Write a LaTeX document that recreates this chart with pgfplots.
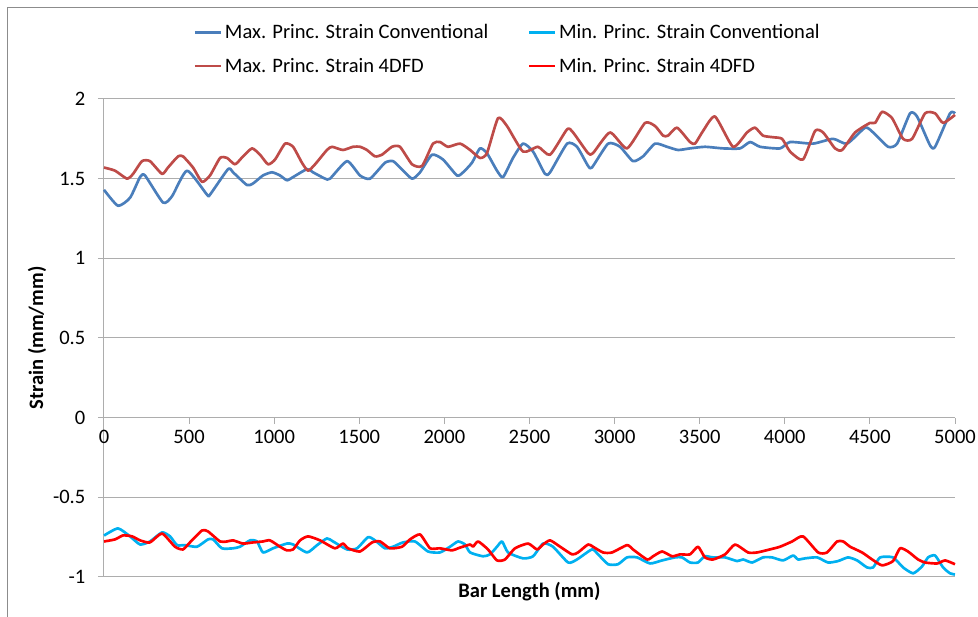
\documentclass[border=0pt]{standalone}
\usepackage{pgfplots}
\pgfplotsset{compat=1.18}
\usepackage{fontspec}
\setmainfont{Carlito}
\definecolor{maxconv}{HTML}{4A7EBB}
\definecolor{minconv}{HTML}{00B0F0}
\definecolor{maxdfd}{HTML}{BE4B48}
\definecolor{mindfd}{HTML}{FF0000}
\definecolor{gridc}{HTML}{ADADAD}
\definecolor{framec}{HTML}{8C8C8C}

\pgfplotstableread{
x y
0 1.43
82 1.33
153 1.38
212 1.51
241 1.52
347 1.35
400 1.39
488 1.55
605 1.40
623 1.40
729 1.56
758 1.54
840 1.46
876 1.47
934 1.52
987 1.54
1034 1.52
1075 1.49
1111 1.51
1193 1.56
1228 1.54
1299 1.50
1328 1.50
1428 1.61
1504 1.52
1563 1.50
1651 1.60
1698 1.61
1739 1.57
1810 1.50
1857 1.54
1927 1.65
1992 1.62
2074 1.52
2110 1.54
2162 1.60
2209 1.69
2250 1.66
2309 1.55
2345 1.51
2403 1.63
2462 1.72
2521 1.67
2591 1.53
2621 1.54
2721 1.72
2779 1.70
2844 1.58
2867 1.57
2962 1.72
3032 1.70
3108 1.61
3167 1.64
3238 1.72
3308 1.70
3373 1.68
3443 1.69
3531 1.70
3637 1.69
3737 1.69
3796 1.73
3855 1.70
3972 1.69
4031 1.73
4166 1.72
4284 1.75
4366 1.72
4472 1.82
4519 1.79
4607 1.70
4660 1.72
4736 1.91
4777 1.89
4853 1.71
4883 1.70
4971 1.91
5000 1.91
}\maxconvtab

\pgfplotstableread{
x y
0 1.57
65 1.55
135 1.50
171 1.53
223 1.61
270 1.61
341 1.53
376 1.57
435 1.64
464 1.64
523 1.57
576 1.48
623 1.52
682 1.63
723 1.63
770 1.59
817 1.64
870 1.69
917 1.65
964 1.59
1005 1.62
1064 1.72
1111 1.70
1163 1.60
1199 1.55
1240 1.59
1310 1.68
1340 1.70
1404 1.68
1463 1.70
1504 1.70
1545 1.68
1592 1.64
1633 1.65
1692 1.70
1739 1.70
1810 1.59
1869 1.58
1933 1.72
1974 1.73
2021 1.70
2092 1.72
2151 1.68
2209 1.63
2250 1.66
2315 1.88
2368 1.83
2462 1.67
2550 1.70
2621 1.65
2721 1.81
2756 1.79
2844 1.66
2873 1.66
2973 1.79
3073 1.69
3179 1.85
3238 1.83
3285 1.77
3314 1.77
3367 1.82
3443 1.73
3473 1.72
3520 1.80
3590 1.89
3696 1.70
3778 1.79
3825 1.82
3872 1.77
3931 1.76
3984 1.75
4031 1.67
4107 1.62
4178 1.80
4225 1.79
4295 1.69
4337 1.68
4413 1.79
4501 1.85
4531 1.85
4572 1.92
4630 1.88
4695 1.75
4748 1.75
4824 1.91
4883 1.91
4930 1.85
5000 1.90
}\maxdfdtab

\pgfplotstableread{
x y
0 -0.74
82 -0.695
153 -0.745
212 -0.796
270 -0.777
341 -0.72
388 -0.745
429 -0.80
476 -0.80
546 -0.81
611 -0.764
641 -0.764
693 -0.82
758 -0.82
799 -0.81
858 -0.77
899 -0.777
934 -0.846
993 -0.82
1075 -0.79
1111 -0.796
1193 -0.846
1252 -0.80
1310 -0.758
1346 -0.777
1428 -0.827
1487 -0.82
1551 -0.75
1592 -0.77
1651 -0.82
1698 -0.81
1757 -0.783
1827 -0.777
1904 -0.84
1974 -0.846
2033 -0.81
2080 -0.777
2121 -0.796
2151 -0.846
2227 -0.87
2268 -0.858
2309 -0.81
2339 -0.777
2374 -0.846
2462 -0.883
2521 -0.87
2580 -0.79
2638 -0.81
2727 -0.909
2779 -0.89
2867 -0.827
2903 -0.858
2962 -0.92
3020 -0.92
3073 -0.877
3132 -0.877
3208 -0.915
3279 -0.896
3355 -0.877
3396 -0.877
3443 -0.909
3490 -0.909
3531 -0.87
3578 -0.877
3649 -0.877
3720 -0.90
3755 -0.89
3808 -0.909
3872 -0.877
3925 -0.877
3990 -0.896
4049 -0.865
4078 -0.89
4119 -0.883
4190 -0.877
4254 -0.909
4313 -0.90
4372 -0.877
4425 -0.896
4483 -0.94
4519 -0.94
4560 -0.877
4636 -0.877
4695 -0.94
4754 -0.977
4806 -0.934
4842 -0.877
4883 -0.865
4930 -0.94
4971 -0.977
5000 -0.984
}\minconvtab

\pgfplotstableread{
x y
0 -0.777
65 -0.764
112 -0.739
165 -0.745
212 -0.77
270 -0.783
341 -0.727
417 -0.81
464 -0.827
505 -0.783
576 -0.708
611 -0.714
682 -0.777
723 -0.777
758 -0.77
817 -0.79
876 -0.783
934 -0.777
975 -0.77
1034 -0.81
1075 -0.833
1111 -0.827
1152 -0.77
1199 -0.745
1269 -0.77
1357 -0.82
1404 -0.79
1434 -0.82
1504 -0.84
1575 -0.783
1622 -0.777
1680 -0.82
1751 -0.81
1798 -0.764
1857 -0.733
1916 -0.82
1974 -0.82
2045 -0.833
2080 -0.82
2151 -0.796
2168 -0.81
2198 -0.777
2256 -0.827
2309 -0.896
2356 -0.89
2415 -0.82
2492 -0.79
2544 -0.827
2580 -0.796
2621 -0.77
2680 -0.81
2750 -0.858
2785 -0.846
2844 -0.796
2873 -0.81
2932 -0.846
2985 -0.846
3073 -0.80
3108 -0.827
3191 -0.89
3226 -0.87
3279 -0.84
3338 -0.87
3385 -0.858
3443 -0.858
3490 -0.81
3531 -0.877
3578 -0.89
3649 -0.858
3708 -0.796
3784 -0.846
3837 -0.846
3913 -0.827
3972 -0.81
4043 -0.777
4107 -0.745
4196 -0.846
4248 -0.846
4307 -0.777
4343 -0.777
4384 -0.81
4454 -0.846
4513 -0.89
4572 -0.927
4636 -0.90
4677 -0.82
4724 -0.84
4783 -0.89
4824 -0.909
4895 -0.915
4942 -0.896
5000 -0.92
}\mindfdtab

\begin{document}
\begin{tikzpicture}
\useasboundingbox (0pt,0pt) rectangle (733.5pt,462.75pt);
\draw[framec, line width=0.75pt] (5.25pt,0pt) -- (5.25pt,456.75pt) -- (733.5pt,456.75pt);
\begin{axis}[
  at={(78pt,30pt)}, anchor=south west,
  scale only axis, width=638.25pt, height=358.5pt,
  xmin=0, xmax=5000, ymin=-1, ymax=2,
  axis x line=middle, axis y line=left,
  axis line style={-, color=gridc, line width=0.75pt},
  hide obscured x ticks=false,
  xtick={0,500,...,5000},
  ytick={-1,-0.5,0,0.5,1,1.5,2},
  ymajorgrids, grid style={gridc, line width=0.75pt},
  tick align=outside, major tick length=4.5pt,
  tick style={gridc, line width=0.75pt},
  scaled ticks=false,
  /pgf/number format/1000 sep={},
  /pgf/number format/assume math mode=true,
  tick label style={font=\fontsize{15.4}{18}\selectfont, text=black},
  yticklabel style={xshift=-6pt},
  xticklabel style={yshift=-1pt},
  xlabel={\textbf{Bar Length (mm)}},
  ylabel={\textbf{Strain (mm/mm)}},
  label style={font=\fontsize{15.4}{18}\selectfont},
  x label style={at={(axis description cs:0.5,-0.031)}, anchor=center},
  y label style={at={(axis description cs:-0.0787,0.5)}, anchor=center, rotate=0},
  legend columns=2,
  legend cell align=left,
  legend style={draw=none, fill=none, at={(axis description cs:0.105,1.162)}, anchor=north west,
    font=\fontsize{15.4}{18}\selectfont, inner sep=0pt,
    /tikz/every even column/.append style={column sep=27.5pt},
    row sep=9pt},
  legend image code/.code={\draw[#1] (0pt,0pt) -- (19.5pt,0pt);},
  every axis plot/.append style={line width=2pt, line join=round, smooth, tension=0.35},
  clip=false,
]
\addplot[maxconv] table {\maxconvtab};
\addlegendentry{Max. Princ. Strain Conventional}
\addplot[minconv] table {\minconvtab};
\addlegendentry{Min. Princ. Strain Conventional}
\addplot[maxdfd] table {\maxdfdtab};
\addlegendentry{Max. Princ. Strain 4DFD}
\addplot[mindfd] table {\mindfdtab};
\addlegendentry{Min. Princ. Strain 4DFD}
\end{axis}
\end{tikzpicture}
\end{document}
